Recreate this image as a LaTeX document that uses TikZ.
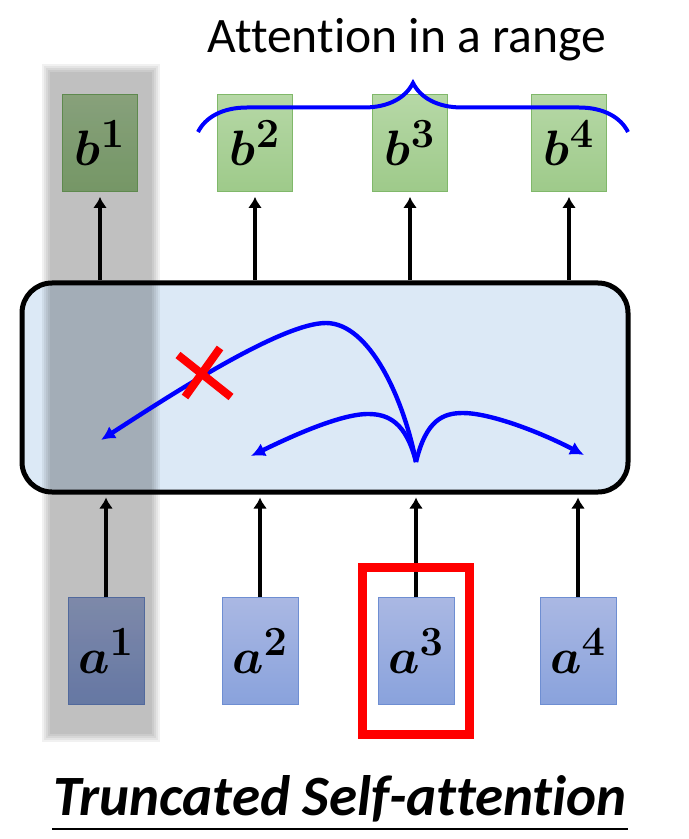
\documentclass[tikz,border=0pt]{standalone}
\usepackage{fontspec}
\setmainfont{Carlito}[Ligatures={NoCommon}]
\usetikzlibrary{arrows.meta,positioning,decorations.pathreplacing,fit}

\definecolor{outtop}{RGB}{182,216,166}
\definecolor{outbot}{RGB}{158,202,138}
\definecolor{outline}{RGB}{128,184,106}
\definecolor{intop}{RGB}{170,184,227}
\definecolor{inbot}{RGB}{137,162,220}
\definecolor{inline}{RGB}{110,142,210}
\definecolor{layerfill}{RGB}{220,233,246}

\begin{document}
\begin{tikzpicture}[x=0.5pt,y=-0.5pt,
  outbox/.style={draw=outline,top color=outtop,bottom color=outbot,minimum width=37.5pt,minimum height=48.5pt,inner sep=0pt,font=\fontsize{30}{30}\selectfont\boldmath},
  inbox/.style={draw=inline,top color=intop,bottom color=inbot,minimum width=38pt,minimum height=53.5pt,inner sep=0pt,font=\fontsize{30}{30}\selectfont\boldmath},
  feed/.style={-{Latex[length=5.5pt,width=7pt]},line width=2pt,shorten >=2.5pt},
  attn/.style={-{Latex[length=7pt,width=7pt]},blue,line width=2.2pt},
  cross/.style={red,line width=4pt}]
  \useasboundingbox (0,0) rectangle (689,839);

  \node[anchor=base,font=\fontsize{24.8}{24.8}\selectfont] (title) at (407,53) {Attention in a range};

  % outputs and inputs
  \foreach \i/\x in {1/100,2/255,3/410,4/569}
    \node[outbox] (b\i) at (\x,143) {$b^{\i}$};
  \foreach \i/\x in {1/106,2/260,3/416,4/578}
    \node[inbox] (a\i) at (\x,651) {$a^{\i}$};

  \node[draw,line width=2.5pt,rounded corners=15pt,fill=layerfill,minimum width=303pt,minimum height=104.5pt] (layer) at (325,387.5) {};

  % masked column
  \foreach \s in {-4,-2,0,2,4}
    \fill[black,opacity=.056] (46+\s,68+\s) rectangle (156-\s,738-\s);

  \foreach \i in {1,...,4}{
    \draw[feed] (b\i |- layer.north) -- (b\i.south);
    \draw[feed,shorten >=1.5pt] (a\i.north) -- (a\i |- layer.south);
  }

  \node[draw=red,line width=4.5pt,fit=(a3),inner xsep=7.75pt,inner ysep=15pt] (focus) {};

  \draw[blue,line width=2pt,decorate,decoration={brace,amplitude=24.5pt}] (198,132) -- (628,132);

  % attention from a^3
  \coordinate (src) at (416,462);
  \coordinate (bpeak) at (326,323);
  \coordinate (btip) at (101,440);
  \coordinate (lpeak) at (368,414);
  \coordinate (ltip) at (251,456);
  \coordinate (rpeak) at (463,413);
  \coordinate (rtip) at (584,455);
  \draw[attn] (src) .. controls (404,400) and (370,323) .. (bpeak) .. controls (280,323) and (163,400) .. (btip);
  \draw[attn] (src) .. controls (406,422) and (388,414) .. (lpeak) .. controls (340,414) and (290,437) .. (ltip);
  \draw[attn] (src) .. controls (426,420) and (443,413) .. (rpeak) .. controls (490,413) and (540,432) .. (rtip);

  \coordinate (cut) at (204,373);
  \draw[cross] ([shift={(-26,-18)}]cut) -- ([shift={(27,24)}]cut);
  \draw[cross] ([shift={(16,-25)}]cut) -- ([shift={(-19,24)}]cut);

  \node[anchor=base,font=\fontsize{28.5}{28.5}\selectfont\bfseries\itshape] (caption) at (340,815) {Truncated Self-attention};
  \draw[line width=1pt] (52,829) -- (628,829);
\end{tikzpicture}
\end{document}
